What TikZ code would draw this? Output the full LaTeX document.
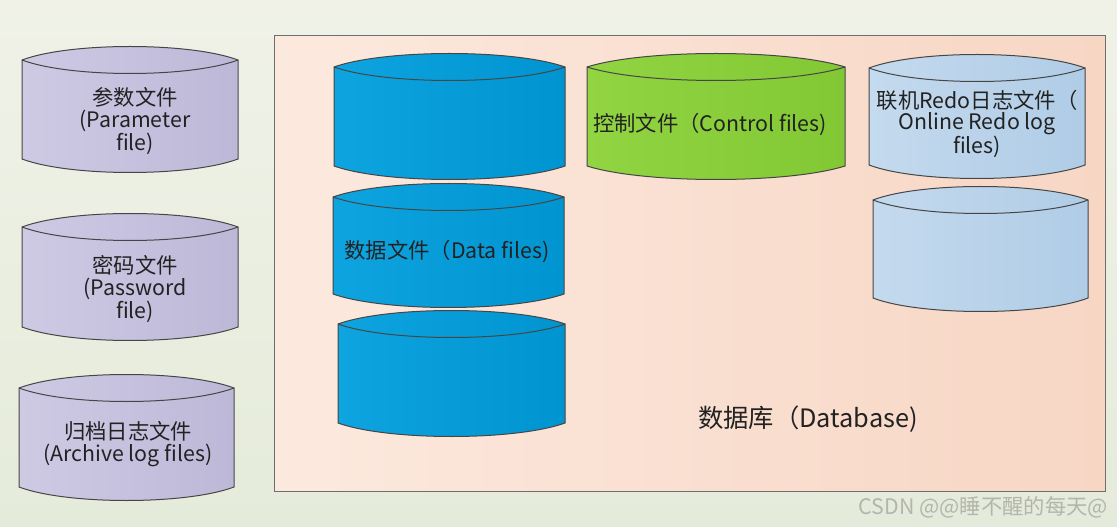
\documentclass[tikz,border=0pt]{standalone}
\usepackage{fontspec}
\setmainfont{Noto Sans CJK SC}

\definecolor{bgtop}{RGB}{240,242,232}
\definecolor{bgbot}{RGB}{229,235,218}
\definecolor{dbleft}{RGB}{252,233,222}
\definecolor{dbright}{RGB}{247,214,196}
\definecolor{purpleleft}{RGB}{206,202,228}
\definecolor{purpleright}{RGB}{190,184,216}
\definecolor{blueleft}{RGB}{14,164,224}
\definecolor{blueright}{RGB}{0,148,208}
\definecolor{greenleft}{RGB}{146,212,66}
\definecolor{greenright}{RGB}{130,200,52}
\definecolor{redoleft}{RGB}{196,218,238}
\definecolor{redoright}{RGB}{176,204,230}
\definecolor{edge}{RGB}{70,70,70}
\definecolor{labeltext}{RGB}{34,34,34}

\tikzset{
	paramcan/.style={draw=edge, left color=purpleleft, right color=purpleright},
	datacan/.style={draw=edge, left color=blueleft, right color=blueright},
	ctrlcan/.style={draw=edge, left color=greenleft, right color=greenright},
	redocan/.style={draw=edge, left color=redoleft, right color=redoright},
	canlabel/.style={text=labeltext, align=center, font=\fontsize{16}{16.2}\selectfont},
}
\tikzset{every picture/.style={line width=0.75pt}}

\begin{document}
\begin{tikzpicture}[x=0.75pt,y=0.75pt,yscale=-1,xscale=1]
	\useasboundingbox (0,0) rectangle (1117,527);
	%Background
	\fill [top color=bgtop, bottom color=bgbot] (0,0) rectangle (1117,527);

	%Shape: Rectangle (database)
	\draw [color={rgb, 255:red, 110; green, 110; blue, 110 }, left color=dbleft, right color=dbright] (274,36) -- (1105,36) -- (1105,491) -- (274,491) -- cycle ;

	%Shape: Can (parameter file)
	\draw [paramcan] (22,60) .. controls (70,42) and (190,42) .. (238,60) -- (238,159) .. controls (190,177) and (70,177) .. (22,159) -- cycle ;
	\draw [color=edge] (22,60) .. controls (70,78) and (190,78) .. (238,60) ;
	%Shape: Can (password file)
	\draw [paramcan] (22,227) .. controls (70,209) and (190,209) .. (238,227) -- (238,327) .. controls (190,345) and (70,345) .. (22,327) -- cycle ;
	\draw [color=edge] (22,227) .. controls (70,245) and (190,245) .. (238,227) ;
	%Shape: Can (archive log files)
	\draw [paramcan] (19,388) .. controls (67,370) and (186,370) .. (234,388) -- (234,487) .. controls (186,505) and (67,505) .. (19,487) -- cycle ;
	\draw [color=edge] (19,388) .. controls (67,406) and (186,406) .. (234,388) ;

	%Shape: Can (data 1)
	\draw [datacan] (334,67) .. controls (385,49) and (514,49) .. (565,67) -- (565,166) .. controls (514,184) and (385,184) .. (334,166) -- cycle ;
	\draw [color=edge] (334,67) .. controls (385,85) and (514,85) .. (565,67) ;
	%Shape: Can (data 2)
	\draw [datacan] (333,197) .. controls (384,179) and (513,179) .. (564,197) -- (564,294) .. controls (513,312) and (384,312) .. (333,294) -- cycle ;
	\draw [color=edge] (333,197) .. controls (384,215) and (513,215) .. (564,197) ;
	%Shape: Can (data 3)
	\draw [datacan] (338,324) .. controls (388,306) and (515,306) .. (565,324) -- (565,423) .. controls (515,441) and (388,441) .. (338,423) -- cycle ;
	\draw [color=edge] (338,324) .. controls (388,342) and (515,342) .. (565,324) ;

	%Shape: Can (control files)
	\draw [ctrlcan] (587,67) .. controls (644,49) and (788,49) .. (845,67) -- (845,166) .. controls (788,184) and (644,184) .. (587,166) -- cycle ;
	\draw [color=edge] (587,67) .. controls (644,85) and (788,85) .. (845,67) ;

	%Shape: Can (redo 1)
	\draw [redocan] (869,68) .. controls (917,50) and (1037,50) .. (1085,68) -- (1085,165) .. controls (1037,183) and (917,183) .. (869,165) -- cycle ;
	\draw [color=edge] (869,68) .. controls (917,86) and (1037,86) .. (1085,68) ;
	%Shape: Can (redo 2)
	\draw [redocan] (873,200) .. controls (920,182) and (1041,182) .. (1088,200) -- (1088,298) .. controls (1041,316) and (920,316) .. (873,298) -- cycle ;
	\draw [color=edge] (873,200) .. controls (920,218) and (1041,218) .. (1088,200) ;

	% Text Node
	\node [canlabel] (paramlbl) at (135,121) {参数文件\\(Parameter\\file)};
	% Text Node
	\node [canlabel] (pwdlbl) at (135,289) {密码文件\\(Password\\file)};
	% Text Node
	\node [canlabel] (archlbl) at (128,444) {归档日志文件\\(Archive log files)};
	% Text Node
	\node [canlabel] (datalbl) at (447,251) {数据文件（Data files)};
	% Text Node
	\node [canlabel] (ctrllbl) at (710,124) {控制文件（Control files)};
	% Text Node
	\node [canlabel] (redolbl) at (977,124) {联机Redo日志文件（\\Online Redo log\\files)};
	% Text Node
	\node [text=labeltext, font=\fontsize{19}{22}\selectfont] (dblbl) at (808,419) {数据库（Database)};
	% Text Node
	\node [anchor=east, text={rgb, 255:red, 178; green, 182; blue, 172 }, font=\fontsize{16}{17}\selectfont] (mark) at (1113,507) {CSDN @@睡不醒的每天@};

\end{tikzpicture}
\end{document}
